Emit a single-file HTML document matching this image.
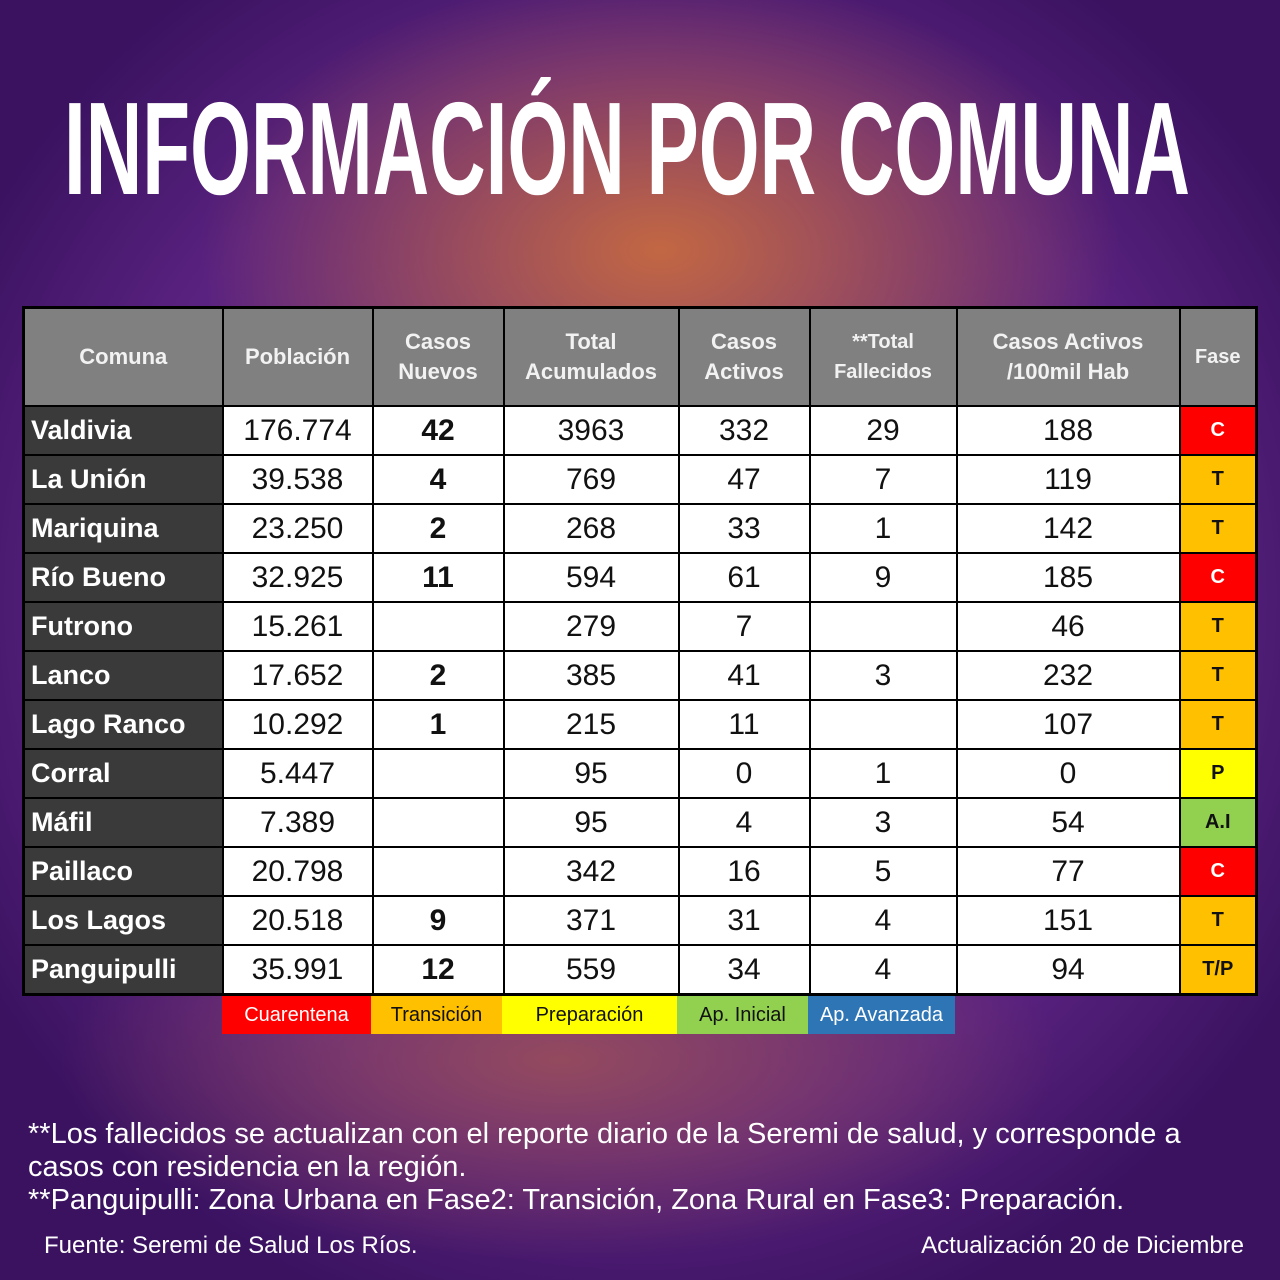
<!DOCTYPE html>
<html><head><meta charset="utf-8"><style>
body{margin:0;width:1280px;height:1280px;overflow:hidden;font-family:"Liberation Sans",sans-serif;}
#bg{position:absolute;left:0;top:0;width:1280px;height:1280px;
background:
radial-gradient(ellipse 460px 280px at 660px 250px, rgba(205,110,60,0.9), rgba(205,110,60,0) 100%),
radial-gradient(ellipse 500px 200px at 560px 1060px, rgba(170,90,80,0.7), rgba(170,90,80,0) 100%),
radial-gradient(ellipse 760px 760px at 640px 600px, #7a3a82, #5a2280 70%, #3a1260 100%);}
svg.t{position:absolute;left:0;top:0;}
table{position:absolute;left:22px;top:306px;border-collapse:collapse;border:3px solid #000;table-layout:fixed;}
td{border:2px solid #000;text-align:center;padding:0;height:47px;font-size:30px;color:#111;background:#fff;}
tr.h td{height:96px;background:#808080;color:#f2f2f2;font-weight:bold;font-size:22px;line-height:30px;}
td.n{background:#3a3a3a;color:#fff;font-weight:bold;font-size:27px;text-align:left;padding-left:6px;}
td.b{font-weight:bold;}
td.f{font-weight:bold;font-size:20px;}
.C{background:#f00!important;color:#fff!important}.T{background:#ffc000!important}.P{background:#ff0!important}.A{background:#92d050!important}
.leg{position:absolute;top:996px;height:38px;line-height:38px;text-align:center;font-size:20px;}
.note{position:absolute;left:28px;top:1118px;color:#fff;font-size:29px;line-height:33px;white-space:nowrap;}
.foot{position:absolute;top:1232px;color:#fff;font-size:24px;}
</style></head><body><div id="bg"></div>
<svg class="t" width="1280" height="300"><text x="64" y="194" textLength="1126" lengthAdjust="spacingAndGlyphs" font-family="Liberation Sans, sans-serif" font-weight="bold" font-size="132" fill="#fff">INFORMACIÓN POR COMUNA</text></svg>
<table>
<colgroup><col style="width:199px"><col style="width:150px"><col style="width:131px"><col style="width:175px"><col style="width:131px"><col style="width:147px"><col style="width:223px"><col style="width:77px"></colgroup>
<tr class="h"><td>Comuna</td><td>Población</td><td>Casos<br>Nuevos</td><td>Total<br>Acumulados</td><td>Casos<br>Activos</td><td style="font-size:20px">**Total<br>Fallecidos</td><td>Casos Activos<br>/100mil Hab</td><td style="font-size:20px">Fase</td></tr>
<tr><td class="n">Valdivia</td><td>176.774</td><td class="b">42</td><td>3963</td><td>332</td><td>29</td><td>188</td><td class="f C">C</td></tr>
<tr><td class="n">La Unión</td><td>39.538</td><td class="b">4</td><td>769</td><td>47</td><td>7</td><td>119</td><td class="f T">T</td></tr>
<tr><td class="n">Mariquina</td><td>23.250</td><td class="b">2</td><td>268</td><td>33</td><td>1</td><td>142</td><td class="f T">T</td></tr>
<tr><td class="n">Río Bueno</td><td>32.925</td><td class="b">11</td><td>594</td><td>61</td><td>9</td><td>185</td><td class="f C">C</td></tr>
<tr><td class="n">Futrono</td><td>15.261</td><td class="b"></td><td>279</td><td>7</td><td></td><td>46</td><td class="f T">T</td></tr>
<tr><td class="n">Lanco</td><td>17.652</td><td class="b">2</td><td>385</td><td>41</td><td>3</td><td>232</td><td class="f T">T</td></tr>
<tr><td class="n">Lago Ranco</td><td>10.292</td><td class="b">1</td><td>215</td><td>11</td><td></td><td>107</td><td class="f T">T</td></tr>
<tr><td class="n">Corral</td><td>5.447</td><td class="b"></td><td>95</td><td>0</td><td>1</td><td>0</td><td class="f P">P</td></tr>
<tr><td class="n">Máfil</td><td>7.389</td><td class="b"></td><td>95</td><td>4</td><td>3</td><td>54</td><td class="f A">A.I</td></tr>
<tr><td class="n">Paillaco</td><td>20.798</td><td class="b"></td><td>342</td><td>16</td><td>5</td><td>77</td><td class="f C">C</td></tr>
<tr><td class="n">Los Lagos</td><td>20.518</td><td class="b">9</td><td>371</td><td>31</td><td>4</td><td>151</td><td class="f T">T</td></tr>
<tr><td class="n">Panguipulli</td><td>35.991</td><td class="b">12</td><td>559</td><td>34</td><td>4</td><td>94</td><td class="f T">T/P</td></tr>
</table>
<div class="leg" style="left:222px;width:149px;background:#f00;color:#fff">Cuarentena</div>
<div class="leg" style="left:371px;width:131px;background:#ffc000;color:#111">Transición</div>
<div class="leg" style="left:502px;width:175px;background:#ff0;color:#111">Preparación</div>
<div class="leg" style="left:677px;width:131px;background:#92d050;color:#111">Ap. Inicial</div>
<div class="leg" style="left:808px;width:147px;background:#2e75b6;color:#fff">Ap. Avanzada</div>
<div class="note">**Los fallecidos se actualizan con el reporte diario de la Seremi de salud, y corresponde a<br>casos con residencia en la región.<br>**Panguipulli: Zona Urbana en Fase2: Transición, Zona Rural en Fase3: Preparación.</div>
<div class="foot" style="left:44px">Fuente: Seremi de Salud Los Ríos.</div>
<div class="foot" style="right:36px">Actualización 20 de Diciembre</div>
</body></html>
